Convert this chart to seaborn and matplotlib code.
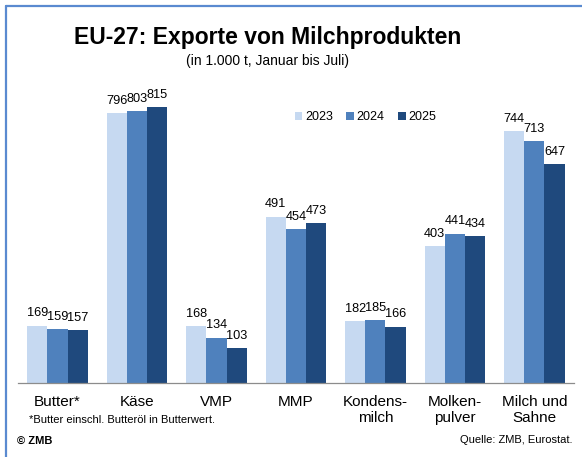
import matplotlib
matplotlib.use("Agg")
import matplotlib.pyplot as plt
from matplotlib.lines import Line2D
import pandas as pd
import seaborn as sns

categories = ["Butter*", "Käse", "VMP", "MMP", "Kondens-\nmilch", "Molken-\npulver", "Milch und\nSahne"]
years = ["2023", "2024", "2025"]
v2023 = [169, 796, 168, 491, 182, 403, 744]
v2024 = [159, 803, 134, 454, 185, 441, 713]
v2025 = [157, 815, 103, 473, 166, 434, 647]
colors = ["#C6D9F1", "#4F81BD", "#1F497D"]

rows = []
for year, vals in zip(years, [v2023, v2024, v2025]):
    for cat, v in zip(categories, vals):
        rows.append({"Produkt": cat, "Jahr": year, "Wert": v})
df = pd.DataFrame(rows)

sns.set_theme(style="white")
plt.rcParams["font.family"] = ["Liberation Sans", "DejaVu Sans"]
plt.rcParams["text.color"] = "black"

fig = plt.figure(figsize=(5.82, 4.57), dpi=100)
ax = fig.add_axes([0.0305, 0.162, 0.956, 0.667])

sns.barplot(data=df, x="Produkt", y="Wert", hue="Jahr", palette=colors,
            width=0.76, gap=0, saturation=1, linewidth=0, ax=ax)

for cont in ax.containers:
    ax.bar_label(cont, padding=4.5, fontsize=9.2, color="black")

ax.set_xlim(-0.5, len(categories) - 0.5)
ax.set_ylim(0, 900)
ax.set_xlabel("")
ax.set_ylabel("")
ax.set_yticks([])
for s in ["left", "right", "top"]:
    ax.spines[s].set_visible(False)
ax.spines["bottom"].set_color("#8c8c8c")
ax.spines["bottom"].set_linewidth(0.9)

ax.set_xticks(range(len(categories)))
ax.set_xticklabels(categories, fontsize=11, color="black", linespacing=1.15)
ax.tick_params(axis="x", which="major", length=0, pad=9)
ax.set_xticks([i - 0.5 for i in range(len(categories) + 1)], minor=True)
ax.tick_params(axis="x", which="minor", length=4, color="#8c8c8c", width=0.9, direction="out")

handles, labels = ax.get_legend_handles_labels()
ax.legend(handles, labels, ncol=3, frameon=False, fontsize=9, labelcolor="black",
          handlelength=0.6, handleheight=0.6, handletextpad=0.2, columnspacing=1.1,
          loc="center", bbox_to_anchor=(0.628, 0.744), bbox_transform=fig.transFigure)

fig.text(0.46, 0.917, "EU-27: Exporte von Milchprodukten", ha="center", va="center",
         fontsize=16.5, fontweight="bold", color="black")
fig.text(0.46, 0.866, "(in 1.000 t, Januar bis Juli)", ha="center", va="center", fontsize=10, color="black")
fig.text(0.05, 0.081, "*Butter einschl. Butteröl in Butterwert.", ha="left", va="center", fontsize=8, color="black")
fig.text(0.029, 0.035, "© ZMB", ha="left", va="center", fontsize=8, fontweight="bold", color="black")
fig.text(0.983, 0.037, "Quelle: ZMB, Eurostat.", ha="right", va="center", fontsize=8, color="black")

# blue frame top and left
fig.add_artist(Line2D([0.0095, 1.0], [0.987, 0.987], transform=fig.transFigure, color="#5A8AD0", lw=1.6))
fig.add_artist(Line2D([0.0095, 0.0095], [0.0, 0.987], transform=fig.transFigure, color="#5A8AD0", lw=1.6))

fig.savefig("out.png", dpi=100)
